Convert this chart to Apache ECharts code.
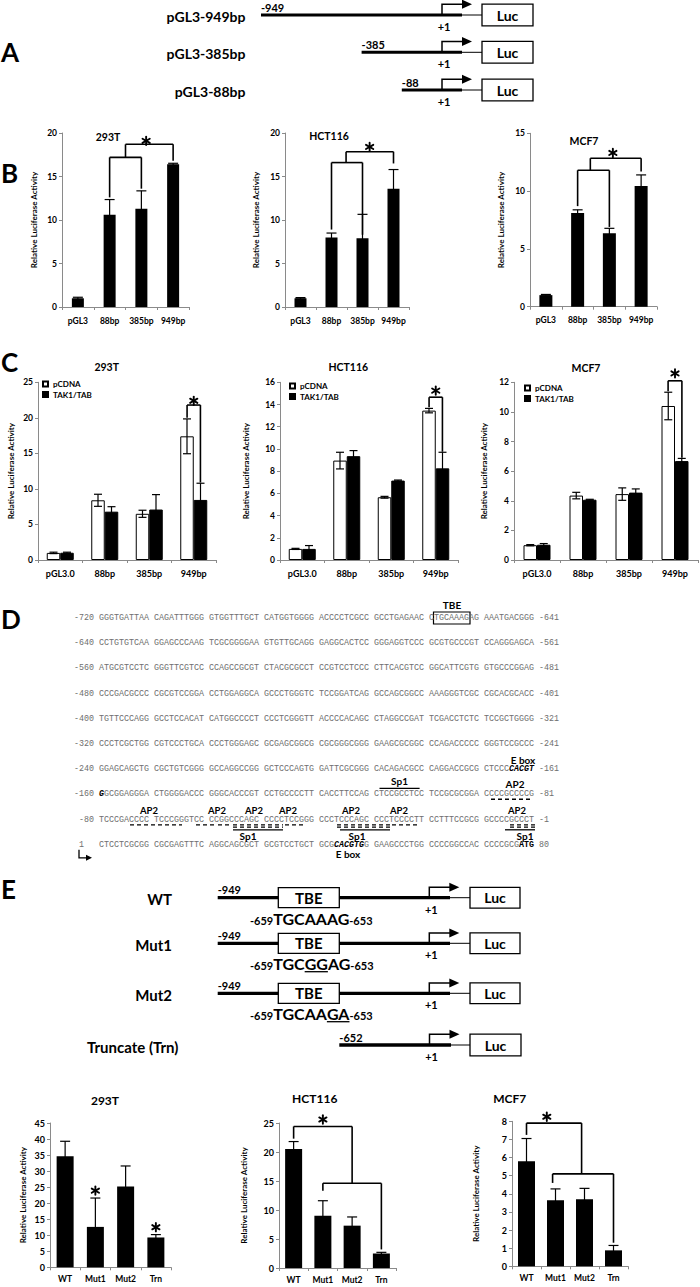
<!DOCTYPE html>
<html><head><meta charset="utf-8">
<script src="https://cdn.jsdelivr.net/npm/echarts@6/dist/echarts.min.js"></script>
<style>html,body{margin:0;padding:0;background:#fff}#c{width:700px;height:1287px}</style>
</head><body><div id="c"></div>
<script>
// ================= DATA =================
const catB = ['pGL3', '88bp', '385bp', '949bp'];
const catC = ['pGL3.0', '88bp', '385bp', '949bp'];
const catE = ['WT', 'Mut1', 'Mut2', 'Trn'];
const cellLines = ['293T', 'HCT116', 'MCF7'];
const seriesNamesC = ['pCDNA', 'TAK1/TAB'];
const yName = 'Relative Luciferase Activity';

// Panel B
const b293T = [1.0, 10.6, 11.3, 16.4];
const b293TErr = [0.12, 1.75, 2.05, 0.12];
const bHCT116 = [1.0, 8.0, 7.9, 13.6];
const bHCT116Err = [0.08, 0.5, 2.75, 2.2];
const bMCF7 = [1.0, 8.1, 6.35, 10.45];
const bMCF7Err = [0.06, 0.28, 0.43, 0.95];

// Panel C
const c293T_pCDNA = [1.0, 8.4, 6.5, 17.4];
const c293T_pCDNAErr = [0.1, 0.85, 0.5, 2.45];
const c293T_TAK = [1.02, 6.8, 7.1, 8.45];
const c293T_TAKErr = [0.08, 0.7, 2.1, 2.35];
const cHCT116_pCDNA = [1.0, 8.95, 5.65, 13.45];
const cHCT116_pCDNAErr = [0.05, 0.75, 0.08, 0.2];
const cHCT116_TAK = [1.0, 9.35, 7.15, 8.25];
const cHCT116_TAKErr = [0.3, 0.5, 0.05, 1.45];
const cMCF7_pCDNA = [1.0, 4.35, 4.45, 10.4];
const cMCF7_pCDNAErr = [0.04, 0.22, 0.42, 0.93];
const cMCF7_TAK = [1.03, 4.07, 4.55, 6.68];
const cMCF7_TAKErr = [0.08, 0.03, 0.25, 0.18];

// Panel E
const e293T = [34.6, 12.6, 25.2, 9.3];
const e293TErr = [4.7, 9.0, 6.4, 0.9];
const eHCT116 = [20.5, 9.0, 7.3, 2.5];
const eHCT116Err = [1.3, 2.6, 1.5, 0.2];
const eMCF7 = [5.8, 3.65, 3.7, 0.88];
const eMCF7Err = [1.25, 0.62, 0.6, 0.27];

// axis [max, interval]
const axisB = [[20, 5], [20, 5], [15, 5]];
const axisC = [[25, 5], [16, 2], [12, 2]];
const axisE = [[45, 5], [25, 5], [8, 1]];

// significance brackets: [x1, y1, x2, y2] in (category index, value)
const brB293T = [[1,12.6,1,17.2],[1,17.2,2,17.2],[2,17.2,2,13.6],[1.5,17.2,1.5,18.7],[1.5,18.7,3,18.7],[3,18.7,3,16.8]];
const brBHCT116 = [[1,8.9,1,16.6],[1,16.6,2,16.6],[2,16.6,2,8.3],[1.47,16.6,1.47,17.85],[1.47,17.85,3,17.85],[3,17.85,3,16.5]];
const brBMCF7 = [[1,8.7,1,11.8],[1,11.8,2,11.8],[2,11.8,2,6.9],[1.4,11.8,1.4,12.84],[1.4,12.84,3,12.84],[3,12.84,3,11.7]];
const brC293T = [[2.85,20.0,2.85,21.8],[2.85,21.8,3.15,21.8],[3.15,21.8,3.15,10.9]];
const brCHCT116 = [[2.85,13.75,2.85,14.66],[2.85,14.66,3.15,14.66],[3.15,14.66,3.15,9.75]];
const brCMCF7 = [[2.85,11.4,2.85,12.1],[2.85,12.1,3.15,12.1],[3.15,12.1,3.15,6.9]];
const brE293T = [];
const brEHCT116 = [[0,22.3,0,24.4],[0,24.4,2,24.4],[2,24.4,2,14.6],[1,14.6,3,14.6],[1,14.6,1,13.3],[3,14.6,3,3.2]];
const brEMCF7 = [[0,7.25,0,7.9],[0,7.9,1.9,7.9],[1.9,7.9,1.9,5.1],[0.9,5.1,3,5.1],[0.9,5.1,0.9,4.6],[3,5.1,3,1.3]];
// stars (significance marks): [category index, value]
const stB293T = [[2.15,19.1]];
const stBHCT116 = [[2.23,18.4]];
const stBMCF7 = [[2.11,13.3]];
const stC293T = [[3,22.4]];
const stCHCT116 = [[3,15.25]];
const stCMCF7 = [[3,12.6]];
const stE293T = [[1,23.9],[3,12.5]];
const stEHCT116 = [[1,25.6]];
const stEMCF7 = [[0.7,8.25]];

// Panel D sequence rows (*...* bold italic, #...# bold)
const seqRows = [
 ['-720', 'GGGTGATTAA CAGATTTGGG GTGGTTTGCT CATGGTGGGG ACCCCTCGCC GCCTGAGAAC CTGCAAAGAG AAATGACGGG', '-641'],
 ['-640', 'CCTGTGTCAA GGAGCCCAAG TCGCGGGGAA GTGTTGCAGG GAGGCACTCC GGGAGGTCCC GCGTGCCCGT CCAGGGAGCA', '-561'],
 ['-560', 'ATGCGTCCTC GGGTTCGTCC CCAGCCGCGT CTACGCGCCT CCGTCCTCCC CTTCACGTCC GGCATTCGTG GTGCCCGGAG', '-481'],
 ['-480', 'CCCGACGCCC CGCGTCCGGA CCTGGAGGCA GCCCTGGGTC TCCGGATCAG GCCAGCGGCC AAAGGGTCGC CGCACGCACC', '-401'],
 ['-400', 'TGTTCCCAGG GCCTCCACAT CATGGCCCCT CCCTCGGGTT ACCCCACAGC CTAGGCCGAT TCGACCTCTC TCCGCTGGGG', '-321'],
 ['-320', 'CCCTCGCTGG CGTCCCTGCA CCCTGGGAGC GCGAGCGGCG CGCGGGCGGG GAAGCGCGGC CCAGACCCCC GGGTCCGCCC', '-241'],
 ['-240', 'GGAGCAGCTG CGCTGTCGGG GCCAGGCCGG GCTCCCAGTG GATTCGCGGG CACAGACGCC CAGGACCGCG CTCCC*CACGT*', '-161'],
 ['-160', '*G*GCGGAGGGA CTGGGGACCC GGGCACCCGT CCTGCCCCTT CACCTTCCAG CTCCGCCTCC TCCGCGCGGA CCCCGCCCCG', '-81'],
 [' -80', 'TCCCGACCCC TCCCGGGTCC CCGGCCCAGC CCCCTCCGGG CCCTCCCAGC CCCTCCCCTT CCTTTCCGCG GCCCCGCCCT', '-1'],
 [' 1  ', 'CTCCTCGCGG CGCGAGTTTC AGGCAGCGCT GCGTCCTGCT GCG*CACGTG*G GAAGCCCTGG CCCCGGCCAC CCCCGCG#ATG#', '80']
];

// ================= RENDER =================
const FONT = "Lato, 'Open Sans', 'DejaVu Sans', sans-serif";
const MONO = "'Liberation Mono', 'DejaVu Sans Mono', monospace";
const AX = '#8a8a8a';
const G = [];
function T(x, y, text, size, align, o) {
  o = o || {};
  G.push({type:'text', x:x, y:y, silent:true, z:60, style:{
    text:text, fill:o.fill || '#000', fontSize:size, fontWeight:o.weight || 'bold',
    fontStyle:o.italic ? 'italic' : 'normal', fontFamily:o.family || FONT,
    align:align || 'left', verticalAlign:'middle'}});
}
function L(x1, y1, x2, y2, w, dash) {
  G.push({type:'line', silent:true, z:50, shape:{x1:x1,y1:y1,x2:x2,y2:y2}, style:{stroke:'#000', lineWidth:w || 1, lineDash:dash || null}});
}
function R(x, y, w, h, lw, fill) {
  G.push({type:'rect', silent:true, z:51, shape:{x:x,y:y,width:w,height:h}, style:{fill:fill === undefined ? '#fff' : fill, stroke:'#000', lineWidth:lw || 1.3}});
}
function PG(points) { G.push({type:'polygon', silent:true, z:50, shape:{points:points}, style:{fill:'#000'}}); }
function PL(points, w) { G.push({type:'polyline', silent:true, z:50, shape:{points:points}, style:{stroke:'#000', fill:null, lineWidth:w || 1.5}}); }

// panel letters
[['A',52],['B',173],['C',362],['D',619],['E',889]].forEach(p => T(1, p[1], p[0], 26, 'left'));

// ---- constructs ----
function construct(y, start, num, arrowX, lineEnd, lucX, lucW, lucH, lineW) {
  L(start, y, lineEnd, y, lineW);
  L(lineEnd, y, lucX, y, 1);
  R(lucX, y - lucH / 2, lucW, lucH, 1.3);
  T(lucX + lucW / 2, y, 'Luc', 14, 'center');
  PL([[arrowX, y], [arrowX, y - lucH / 2], [arrowX + 21, y - lucH / 2]], 1.5);
  PG([[arrowX + 20, y - lucH / 2 - 4.5], [arrowX + 30, y - lucH / 2], [arrowX + 20, y - lucH / 2 + 4.5]]);
  T(arrowX + 2, y + 11.5, '+1', 11, 'center');
  T(start, y - 8, num, 11, 'left');
}
[['pGL3-949bp', 261, '-949', 15], ['pGL3-385bp', 361.6, '-385', 52.3], ['pGL3-88bp', 401.8, '-88', 90]].forEach(r => {
  T(245.5, r[3] + 1.5, r[0], 14, 'right');
  construct(r[3], r[1], r[2], 442, 462, 482, 51, 21.7, 3);
});

// ---- Panel D sequence ----
const CW = 5.0, SX = 74, SY0 = 618, SDY = 25.2;
const rowY = i => SY0 + i * SDY;
seqRows.forEach((r, i) => {
  const full = r[0] + ' ' + r[1] + ' ' + r[2];
  const y = rowY(i);
  let idx = 0, mode = 0, run = '', runStart = 0, runMode = 0;
  const flush = () => {
    if (run) {
      T(SX + runStart * CW, y, run, 8.33, 'left', {family:MONO, weight: runMode ? 'bold' : 'normal', italic: runMode === 1, fill: runMode ? '#000' : '#6e6e6e'});
      run = '';
    }
  };
  for (const ch of full) {
    if (ch === '*') { flush(); mode = mode === 1 ? 0 : 1; continue; }
    if (ch === '#') { flush(); mode = mode === 2 ? 0 : 2; continue; }
    if (ch === ' ') { flush(); idx++; continue; }
    if (!run) { runStart = idx; runMode = mode; }
    run += ch; idx++;
  }
  flush();
});
// TBE box in -720 row
R(433.5, rowY(0) - 6, 36.5, 12, 1.2, null);
T(452, rowY(0) - 13, 'TBE', 10, 'center');
// E box -240
T(523, rowY(6) - 9.5, 'E box', 10, 'center');
// -160 row
T(399.5, rowY(7) - 13, 'Sp1', 10, 'center');
L(379.5, rowY(7) - 6, 419.6, rowY(7) - 6, 1.3);
T(515, rowY(7) - 10, 'AP2', 10, 'center');
L(491, rowY(7) + 4.8, 531, rowY(7) + 4.8, 1.4, [4, 3]);
// -80 row
[149, 217, 254, 288, 351, 399, 517].forEach(x => T(x, rowY(8) - 9.5, 'AP2', 9.5, 'center'));
[[130,182],[196,214],[218,232],[233,283],[285,305],[337,390],[392,417],[510,535]].forEach(s => L(s[0], rowY(8) + 5.2, s[1], rowY(8) + 5.2, 1.3, [4, 3]));
[[233,283],[337,390],[510,535]].forEach(s => L(s[0], rowY(8) + 7.6, s[1], rowY(8) + 7.6, 1.2, [4, 3]));
[[233,283,248],[340,390,357],[505,535,525]].forEach(s => { L(s[0], rowY(8) + 10.2, s[1], rowY(8) + 10.2, 1.3); T(s[2], rowY(8) + 16.5, 'Sp1', 10, 'center'); });
// row 1
T(348, rowY(9) + 9, 'E box', 10, 'center');
PL([[79, rowY(9) + 5], [79, rowY(9) + 13], [87, rowY(9) + 13]], 1.3);
PG([[86, rowY(9) + 10], [92, rowY(9) + 13], [86, rowY(9) + 16]]);

// ---- Panel E constructs ----
const mctx = document.createElement('canvas').getContext('2d');
function seqLabel(x, cy, parts) {
  const base = cy + 0.35 * 16;
  let cx = x;
  parts.forEach(p => {
    mctx.font = 'bold ' + p.s + 'px ' + FONT;
    const w = mctx.measureText(p.t).width;
    T(cx, base - 0.35 * p.s, p.t, p.s, 'left');
    if (p.u) L(cx, base + 2.2, cx + w, base + 2.2, 1.3);
    cx += w;
  });
}
const eRows = [
  ['WT', 897.7, [{t:'-659',s:11},{t:'TGCAAAG',s:16},{t:'-653',s:11}]],
  ['Mut1', 943.3, [{t:'-659',s:11},{t:'TGC',s:16},{t:'GG',s:16,u:1},{t:'AG',s:16},{t:'-653',s:11}]],
  ['Mut2', 993.3, [{t:'-659',s:11},{t:'TGCAA',s:16},{t:'GA',s:16,u:1},{t:'-653',s:11}]]
];
eRows.forEach(r => {
  const y = r[1];
  T(172, y + 1.5, r[0], 15, 'right');
  construct(y, 217.7, '-949', 429.3, 450, 470, 50, 20.7, 3.3);
  R(278.3, y - 10, 61, 20, 1.3);
  T(308.8, y, 'TBE', 15, 'center');
  seqLabel(250, y + 20.6, r[2]);
});
T(87, 1046.7, 'Truncate (Trn)', 15, 'left');
construct(1045, 339.3, '-652', 429.5, 451, 470, 51, 21.7, 3.3);

// ---- chart titles ----
[[108,137],[329,136],[584,141]].forEach((p, i) => T(p[0], p[1], cellLines[i], 10.5, 'center'));
[[106.7,366.7],[348.3,367.3],[586,368.3]].forEach((p, i) => T(p[0], p[1], cellLines[i], 10.5, 'center'));
[[105,1100],[314.7,1098.3],[509.8,1098]].forEach((p, i) => T(p[0], p[1], cellLines[i], 12, 'center'));

// ================= CHART SETUP =================
const grids = [
  {left:62, top:133, width:127, height:174},
  {left:285, top:133, width:124, height:174},
  {left:530, top:133.3, width:127, height:173.4},
  {left:38, top:382.3, width:178, height:177.7},
  {left:280, top:382.3, width:178, height:177.7},
  {left:514, top:382.3, width:184, height:177.7},
  {left:50, top:1123, width:121, height:144.3},
  {left:279, top:1123, width:117, height:145},
  {left:512, top:1121.3, width:116, height:145}
].map(g => Object.assign({containLabel:false, outerBoundsMode:'none', show:false}, g));

const cats = [catB, catB, catB, catC, catC, catC, catE, catE, catE];
const axes = axisB.concat(axisC, axisE);
const xFont = [8.5, 8.5, 8.5, 9, 9, 9, 8.5, 8.5, 8.5];
const xMargin = [9, 9, 9, 9, 9, 9, 7, 7, 7];
const yFont = [8.5, 8.5, 8.5, 8.5, 8.5, 8.5, 9, 9, 9];
const nameGaps = [24.5, 25.5, 25.5, 23.5, 30, 26.5, 23, 31, 32];
const xAxis = cats.map((c, i) => ({
  type:'category', gridIndex:i, data:c,
  axisLine:{show:true, lineStyle:{color:AX, width:1}},
  axisTick:{show:true, length:3, lineStyle:{color:AX}},
  axisLabel:{interval:0, margin:xMargin[i], fontSize:xFont[i], fontWeight:'bold', color:'#000', fontFamily:FONT},
  splitLine:{show:false}
}));
const yAxis = axes.map((a, i) => ({
  type:'value', gridIndex:i, min:0, max:a[0], interval:a[1],
  axisLine:{show:true, lineStyle:{color:AX, width:1}},
  axisTick:{show:true, length:3, lineStyle:{color:AX}},
  axisLabel:{margin:5, fontSize:yFont[i], fontWeight:'bold', color:'#000', fontFamily:FONT},
  splitLine:{show:false},
  name:yName, nameLocation:'middle', nameRotate:90, nameGap:nameGaps[i], nameMoveOverlap:false,
  nameTextStyle:{fontSize:8, fontWeight:'bold', color:'#000', fontFamily:FONT}
}));

function errSeries(g, means, errs, off, cap) {
  return {type:'custom', xAxisIndex:g, yAxisIndex:g, clip:false, z:5, silent:true,
    itemStyle:{color:'#000'},
    data: means.map((m, i) => [i, m, errs[i]]),
    encode:{x:0, y:1},
    renderItem: function (params, api) {
      const i = api.value(0), m = api.value(1), s = api.value(2);
      const top = api.coord([i, m + s]);
      const bot = api.coord([i, Math.max(m - s, 0)]);
      const x = top[0] + off;
      const st = {stroke:'#000', lineWidth:1.2};
      return {type:'group', children:[
        {type:'line', shape:{x1:x, y1:top[1], x2:x, y2:bot[1]}, style:st},
        {type:'line', shape:{x1:x - cap, y1:top[1], x2:x + cap, y2:top[1]}, style:st},
        {type:'line', shape:{x1:x - cap, y1:bot[1], x2:x + cap, y2:bot[1]}, style:st}
      ]};
    }};
}
function bracketSeries(g, segs, stars, r) {
  const out = [];
  out.push({type:'custom', xAxisIndex:g, yAxisIndex:g, clip:false, z:6, silent:true, itemStyle:{color:'#000'},
    data: segs.map(s => [0, 0].concat(s)), encode:{x:0, y:1},
    renderItem: function (params, api) {
      const c0 = api.coord([0, 0]), c1 = api.coord([1, 0]);
      const bw = c1[0] - c0[0];
      const X = v => c0[0] + v * bw, Y = v => api.coord([0, v])[1];
      return {type:'line', shape:{x1:X(api.value(2)), y1:Y(api.value(3)), x2:X(api.value(4)), y2:Y(api.value(5))},
        style:{stroke:'#000', lineWidth:1.6}};
    }});
  out.push({type:'custom', xAxisIndex:g, yAxisIndex:g, clip:false, z:6, silent:true, itemStyle:{color:'#000'},
    data: stars.map(s => [0, 0].concat(s)), encode:{x:0, y:1},
    renderItem: function (params, api) {
      const c0 = api.coord([0, 0]), c1 = api.coord([1, 0]);
      const bw = c1[0] - c0[0];
      const x = c0[0] + api.value(2) * bw, y = api.coord([0, api.value(3)])[1];
      const st = {stroke:'#000', lineWidth:1.9, lineCap:'round'};
      const arms = [];
      for (let k = 0; k < 3; k++) {
        const a = Math.PI / 2 + k * Math.PI / 3;
        arms.push({type:'line', shape:{x1:x + r * Math.cos(a), y1:y - r * Math.sin(a), x2:x - r * Math.cos(a), y2:y + r * Math.sin(a)}, style:st});
      }
      return {type:'group', children:arms};
    }});
  return out;
}

const series = [];
const singles = [[0, b293T, b293TErr, 12], [1, bHCT116, bHCT116Err, 12], [2, bMCF7, bMCF7Err, 13],
                 [6, e293T, e293TErr, 17], [7, eHCT116, eHCT116Err, 17], [8, eMCF7, eMCF7Err, 17]];
singles.forEach(s => {
  series.push({type:'bar', name:'bar' + s[0], xAxisIndex:s[0], yAxisIndex:s[0], data:s[1], barWidth:s[3],
    itemStyle:{color:'#000'}, silent:true, z:2});
  series.push(errSeries(s[0], s[1], s[2], 0, 5));
});
const pairs = [[3, c293T_pCDNA, c293T_pCDNAErr, c293T_TAK, c293T_TAKErr],
               [4, cHCT116_pCDNA, cHCT116_pCDNAErr, cHCT116_TAK, cHCT116_TAKErr],
               [5, cMCF7_pCDNA, cMCF7_pCDNAErr, cMCF7_TAK, cMCF7_TAKErr]];
const BWC = 13.5;
pairs.forEach(p => {
  series.push({type:'bar', name:seriesNamesC[0], xAxisIndex:p[0], yAxisIndex:p[0], data:p[1], barWidth:BWC, barGap:'0%',
    itemStyle:{color:'#fff', borderColor:'#000', borderWidth:1}, silent:true, z:2});
  series.push({type:'bar', name:seriesNamesC[1], xAxisIndex:p[0], yAxisIndex:p[0], data:p[3], barWidth:BWC, barGap:'0%',
    itemStyle:{color:'#000', borderColor:'#000', borderWidth:1}, silent:true, z:2});
  series.push(errSeries(p[0], p[1], p[2], -BWC / 2, 4));
  series.push(errSeries(p[0], p[3], p[4], BWC / 2, 4));
});
[[0, brB293T, stB293T], [1, brBHCT116, stBHCT116], [2, brBMCF7, stBMCF7],
 [3, brC293T, stC293T], [4, brCHCT116, stCHCT116], [5, brCMCF7, stCMCF7],
 [6, brE293T, stE293T], [7, brEHCT116, stEHCT116], [8, brEMCF7, stEMCF7]].forEach(b => {
  bracketSeries(b[0], b[1], b[2], 4.2).forEach(s => series.push(s));
});

const legendBase = {orient:'vertical', itemWidth:5, itemHeight:5, itemGap:2.5, padding:0, icon:'rect',
  selectedMode:false, data:seriesNamesC,
  textStyle:{fontSize:8, fontWeight:'bold', color:'#000', fontFamily:FONT}};
const legend = [[42, 380], [289, 382], [524, 384]].map(p => Object.assign({}, legendBase, {left:p[0], top:p[1]}));

const chart = echarts.init(document.getElementById('c'), null, {renderer:'svg', width:700, height:1287});
chart.setOption({
  animation:false,
  backgroundColor:'#fff',
  grid:grids, xAxis:xAxis, yAxis:yAxis, series:series, legend:legend,
  graphic:{elements:G}
});
</script></body></html>
